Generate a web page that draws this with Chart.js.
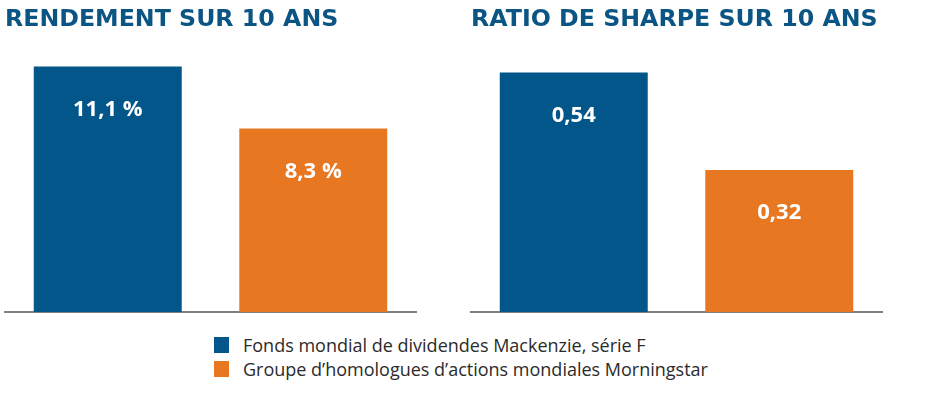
<!DOCTYPE html>
<html>
<head>
<meta charset="utf-8">
<script src="https://cdn.jsdelivr.net/npm/chart.js@4.4.1/dist/chart.umd.min.js"></script>
<style>
  body { margin: 0; background: #fff; width: 940px; height: 397px; overflow: hidden; position: relative; }
  .box { position: absolute; top: 0; width: 470px; height: 320px; }
  #legend { position: absolute; left: 214px; top: 333px; font-family: "Open Sans", sans-serif; font-size: 18px; color: #2b2b2b; }
  #legend div { display: flex; align-items: center; height: 24px; }
  #legend span.sw { display: inline-block; width: 15px; height: 16px; margin-right: 14px; }
</style>
</head>
<body>
<div class="box" style="left:0"><canvas id="c1"></canvas></div>
<div class="box" style="left:466px"><canvas id="c2"></canvas></div>
<div id="legend"></div>
<script>
const seriesNames = ['Fonds mondial de dividendes Mackenzie, série F', 'Groupe d\u2019homologues d\u2019actions mondiales Morningstar'];
const barColors = ['#02568a', '#e87722'];
const rendement = [11.1, 8.3];
const rendementLabels = ['11,1 %', '8,3 %'];
const sharpe = [0.54, 0.32];
const sharpeLabels = ['0,54', '0,32'];

const blue = '#0b5584';

const valueLabels = {
  id: 'valueLabels',
  afterDatasetsDraw(chart) {
    const ctx = chart.ctx;
    const texts = chart.options.plugins.valueLabels.texts;
    const meta = chart.getDatasetMeta(0);
    ctx.save();
    ctx.fillStyle = '#fff';
    ctx.font = 'bold 22px "Open Sans", sans-serif';
    ctx.textAlign = 'center';
    ctx.textBaseline = 'middle';
    meta.data.forEach((bar, i) => {
      ctx.fillText(texts[i], bar.x, bar.y + 43);
    });
    ctx.restore();
  }
};

function makeChart(id, title, values, texts, yMax) {
  return new Chart(document.getElementById(id), {
    type: 'bar',
    data: {
      labels: seriesNames,
      datasets: [{
        data: values,
        backgroundColor: barColors,
        barPercentage: 1,
        categoryPercentage: 0.72
      }]
    },
    options: {
      responsive: true,
      maintainAspectRatio: false,
      animation: false,
      layout: { padding: { left: 5, right: 54, top: 0, bottom: 0 } },
      scales: {
        x: {
          grid: { display: false },
          ticks: { display: false },
          border: { display: true, color: '#808080', width: 2 }
        },
        y: { display: false, min: 0, max: yMax }
      },
      plugins: {
        legend: { display: false },
        tooltip: { enabled: false },
        title: {
          display: true,
          text: title,
          align: 'start',
          color: blue,
          font: { family: '"DejaVu Sans", sans-serif', size: 23.7, weight: 'bold' },
          padding: { top: 6, bottom: 10 }
        },
        valueLabels: { texts: texts }
      }
    },
    plugins: [valueLabels]
  });
}

makeChart('c1', 'RENDEMENT SUR 10 ANS', rendement, rendementLabels, 12.1);
makeChart('c2', 'RATIO DE SHARPE SUR 10 ANS', sharpe, sharpeLabels, 0.603);

const legend = document.getElementById('legend');
seriesNames.forEach((name, i) => {
  const row = document.createElement('div');
  row.innerHTML = '<span class="sw" style="background:' + barColors[i] + '"></span>' + name;
  legend.appendChild(row);
});
</script>
</body>
</html>
